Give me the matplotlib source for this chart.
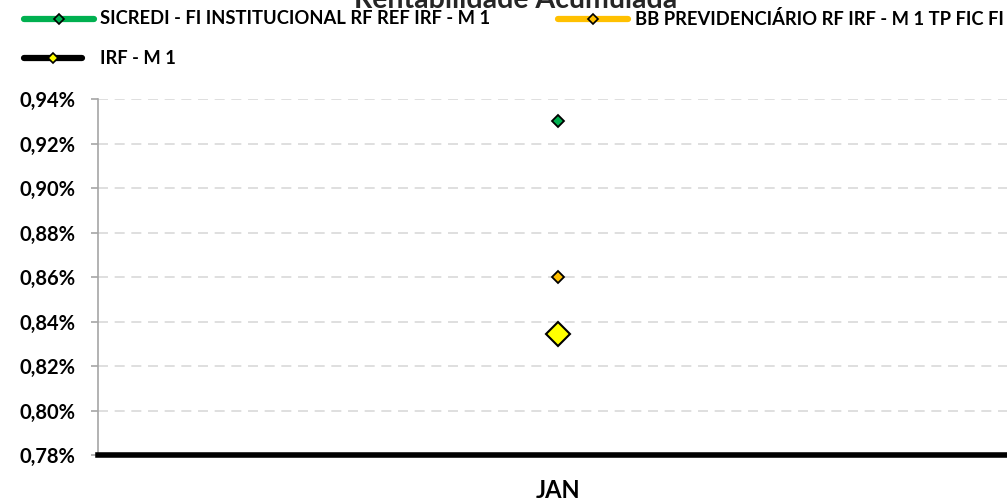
import matplotlib
matplotlib.use("Agg")
import matplotlib.pyplot as plt
from matplotlib.lines import Line2D
from matplotlib.ticker import FuncFormatter

categories = ["JAN"]
series_names = ["SICREDI - FI INSTITUCIONAL RF REF IRF - M 1",
                "BB PREVIDENCIÁRIO RF IRF - M 1 TP FIC FI",
                "IRF - M 1"]
sicredi = [0.93]
bb_prev = [0.86]
irf_m1 = [0.8344]
yticks = [0.78, 0.80, 0.82, 0.84, 0.86, 0.88, 0.90, 0.92, 0.94]

plt.rcParams['font.family'] = ['Lato', 'DejaVu Sans']
plt.rcParams['font.weight'] = 'bold'

W, H = 1007, 500
fig = plt.figure(figsize=(W/100, H/100), dpi=100)
ax = fig.add_axes([98/W, 1-455/H, (1018-98)/W, (455-99)/H])

x = list(range(len(categories)))
ax.plot(x, sicredi, linestyle='none', marker='D', ms=6.0, mfc='#00B050', mec='black', mew=1.3, zorder=5)
ax.plot(x, bb_prev, linestyle='none', marker='D', ms=6.0, mfc='#FFC000', mec='black', mew=1.3, zorder=5)
ax.plot(x, irf_m1, linestyle='none', marker='D', ms=12.0, mfc='#FFFF00', mec='black', mew=1.5, zorder=5)

ax.set_xlim(-0.5, len(categories)-0.5)
ax.set_ylim(0.78, 0.94)
ax.set_yticks(yticks)
ax.yaxis.set_major_formatter(FuncFormatter(lambda v, p: f"{v:.2f}%".replace('.', ',')))
ax.set_xticks(x)
ax.set_xticklabels(categories)
ax.grid(axis='y', color='#d9d9d9', linestyle=(0, (6, 4)), linewidth=1.2)
ax.set_axisbelow(True)

for s in ['top', 'right']:
    ax.spines[s].set_visible(False)
ax.spines['left'].set_color('#a6a6a6')
ax.spines['left'].set_linewidth(1.2)
ax.spines['bottom'].set_color('black')
ax.spines['bottom'].set_linewidth(4)
ax.spines['bottom'].set_zorder(6)

ax.tick_params(axis='y', length=5, color='#a6a6a6', width=1.2, labelsize=14.5, pad=11)
ax.tick_params(axis='x', length=0, labelsize=17, pad=17)
for lab in ax.get_yticklabels() + ax.get_xticklabels():
    lab.set_fontweight('bold')

# title (partially clipped at top, as in reference)
fig.text(516/W, 1-8/H, "Rentabilidade Acumulada", ha='center', va='baseline',
         fontsize=20.5, fontweight='bold', color='#262626')

# legend drawn in figure coordinates
def leg(x0, x1, y, color, mfc, text, tx):
    fig.add_artist(Line2D([x0/W, x1/W], [1-y/H, 1-y/H], color=color, lw=4.5,
                          solid_capstyle='round', transform=fig.transFigure))
    fig.add_artist(Line2D([(x0+x1)/2/W], [1-y/H], marker='D', ms=5, mfc=mfc,
                          mec='black', mew=1.2, linestyle='none', transform=fig.transFigure))
    fig.text(tx/W, 1-y/H, text, ha='left', va='center', fontsize=13.2, fontweight='bold')

leg(24, 94, 19, '#00B050', '#00B050', series_names[0], 100)
leg(558, 628, 19, '#FFC000', '#FFC000', series_names[1], 635)
leg(24, 82, 58, 'black', '#FFFF00', series_names[2], 100)

fig.savefig("out.png", dpi=100)
